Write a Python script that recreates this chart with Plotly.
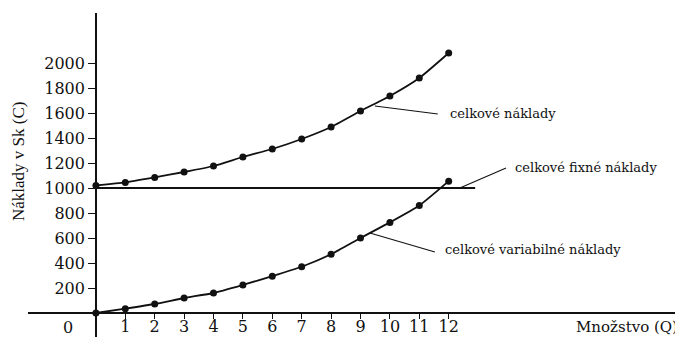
import plotly.graph_objects as go

# Quantity and the cost (Sk)
quantity = list(range(13))
total_cost = [1020, 1045, 1085, 1128, 1176, 1248, 1312, 1392, 1488, 1616, 1736, 1880, 2080]
variable_cost = [0, 35, 72, 120, 160, 225, 295, 370, 470, 600, 725, 860, 1055]
fixed_cost = 1000
fixed_extent = [0, 12.9]

x_ticks = list(range(1, 13))
y_ticks = list(range(200, 2001, 200))

# label text, leader start (on curve), leader end, text anchor
labels = [
    ("celkové náklady", (9.49, 1656), (11.63, 1592), (11.97, 1600)),
    ("celkové fixné náklady", (12.38, 1000), (13.95, 1160), (14.18, 1168)),
    ("celkové variabilné náklady", (9.32, 640), (11.53, 488), (11.80, 512)),
]

X_RANGE = [-2.31, 19.97]
Y_RANGE = [-192, 2400]
SERIF = "DejaVu Serif"
INK = "#111111"

fig = go.Figure()

fig.add_trace(go.Scatter(
    x=fixed_extent, y=[fixed_cost, fixed_cost], mode="lines",
    line=dict(color=INK, width=2), hoverinfo="skip"
))
for series in (total_cost, variable_cost):
    fig.add_trace(go.Scatter(
        x=quantity, y=series, mode="lines+markers",
        line=dict(color=INK, width=1.8, shape="spline", smoothing=0.5),
        marker=dict(color=INK, size=7),
        cliponaxis=False
    ))

for text, start, end, anchor in labels:
    fig.add_shape(type="line", x0=start[0], y0=start[1], x1=end[0], y1=end[1],
                  xref="x", yref="y", line=dict(color=INK, width=1.1))
    fig.add_annotation(x=anchor[0], y=anchor[1], text=text, showarrow=False,
                       xanchor="left", yanchor="middle",
                       font=dict(family=SERIF, size=13, color=INK))

# origin label, axis titles
fig.add_annotation(x=0, y=0, text="0", showarrow=False, xanchor="center", yanchor="top",
                   xshift=-28, yshift=-3, font=dict(family=SERIF, size=16, color=INK))
fig.add_annotation(x=1, xref="paper", y=0, text="Množstvo (Q)", showarrow=False,
                   xanchor="right", yanchor="top", xshift=-3, yshift=-3,
                   font=dict(family=SERIF, size=15, color=INK))
fig.add_annotation(x=-0.0153, xref="paper", y=1216, text="Náklady v Sk (C)", showarrow=False,
                   textangle=-90, xanchor="center", yanchor="middle",
                   font=dict(family="Liberation Serif", size=17, color=INK))

# page body keeps its 8px margin, so the figure is 8px smaller each way
fig.update_layout(
    width=675, height=332,
    margin=dict(l=20, r=0, t=5, b=3),
    paper_bgcolor="white", plot_bgcolor="white",
    showlegend=False,
    xaxis=dict(
        range=X_RANGE, anchor="free", position=192 / 2592,
        showgrid=False, zeroline=False,
        showline=True, linecolor=INK, linewidth=1.5,
        tickvals=x_ticks, ticks="outside", ticklen=5, tickcolor=INK, tickwidth=1.2,
        ticklabelstandoff=-6,
        tickfont=dict(family=SERIF, size=16, color=INK)
    ),
    yaxis=dict(
        range=Y_RANGE, anchor="free", position=2.31 / 22.28,
        showgrid=False, zeroline=False,
        showline=True, linecolor=INK, linewidth=1.5,
        tickvals=y_ticks, ticks="outside", ticklen=7, tickcolor=INK, tickwidth=1.2,
        tickfont=dict(family=SERIF, size=16, color=INK)
    ),
)

fig.write_html("out.html")
